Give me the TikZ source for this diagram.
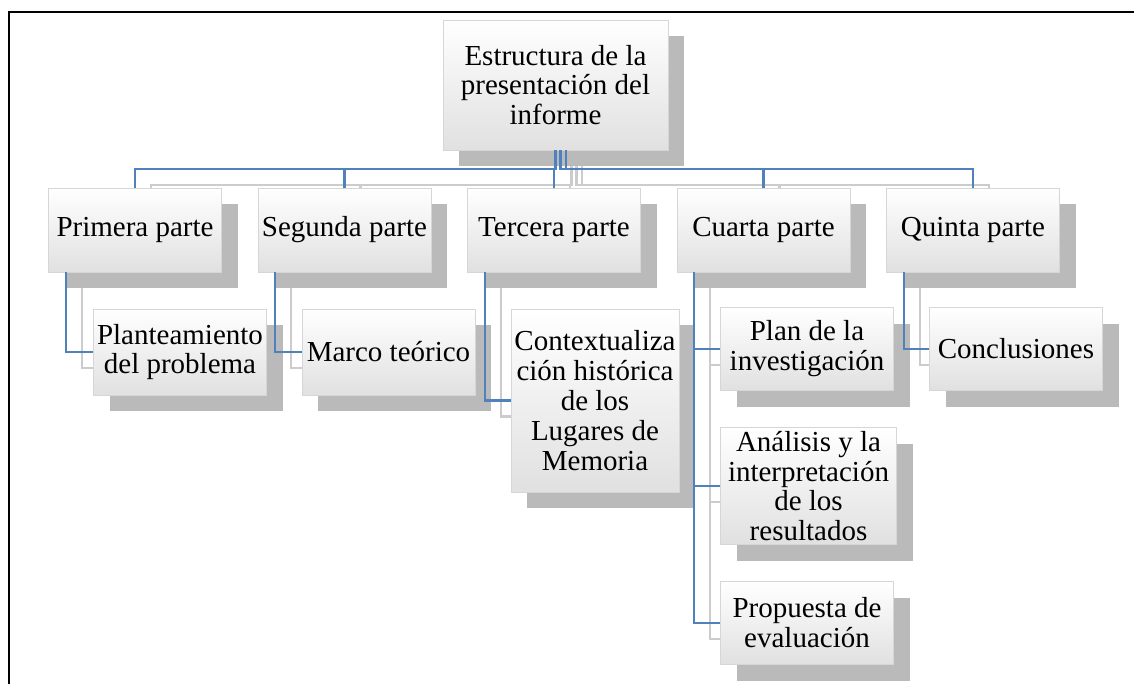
\documentclass[tikz,border=0pt]{standalone}
\usepackage{fontspec}
\setmainfont{Liberation Serif}
\usepackage{xcolor}
\usepackage{tikz}
\usetikzlibrary{positioning,shadows,backgrounds}

\definecolor{linkblue}{HTML}{4F81BD}

\begin{document}
\begin{tikzpicture}[
    node distance=4.19cm,
    box/.style={rectangle, draw=black!16, top color=white, bottom color=black!12, minimum width=3.46cm, minimum height=1.68cm, inner sep=1pt, align=center, font=\fontsize{16.5}{17}\selectfont, general shadow={fill=black!27, shadow xshift=0.32cm, shadow yshift=-0.32cm}},
    link/.style={draw=linkblue, line width=1.3pt},
    linkshade/.style={draw=black!20, line width=1.3pt}
]
    \useasboundingbox (0,0) rectangle (22.68,-13.68);
    \draw[line width=1.4pt] (0.18,-13.68) -- (0.18,-0.24) -- (22.68,-0.24);

    \node[box, minimum width=4.5cm, minimum height=2.6cm] (root) at (11.11,-1.7) {Estructura de la\\presentación del\\informe};
    \node[box] (first) at (2.7,-4.6) {Primera parte};
    \node[box, right of=first] (second) {Segunda parte};
    \node[box, right of=second] (third) {Tercera parte};
    \node[box, right of=third] (fourth) {Cuarta parte};
    \node[box, right of=fourth] (fifth) {Quinta parte};

    \node[box, below of=first, node distance=2.44cm, xshift=0.9cm, minimum height=1.72cm] (problem) {Planteamiento\\del problema};
    \node[box, below of=second, node distance=2.44cm, xshift=0.88cm, minimum height=1.72cm] (theory) {Marco teórico};
    \node[box, below of=third, node distance=3.41cm, xshift=0.82cm, minimum width=3.36cm, minimum height=3.66cm] (history) {Contextualiza\\ción histórica\\de los\\Lugares de\\Memoria};
    \node[box, below of=fourth, node distance=2.38cm, xshift=0.87cm, minimum height=1.66cm] (plan) {Plan de la\\investigación};
    \node[box, below of=fourth, node distance=5.12cm, xshift=0.9cm, minimum width=3.52cm, minimum height=2.34cm, inner ysep=0pt] (analysis) {Análisis y la\\interpretación\\de los\\resultados};
    \node[box, below of=fourth, node distance=7.86cm, xshift=0.87cm, minimum height=1.66cm] (proposal) {Propuesta de\\evaluación};
    \node[box, below of=fifth, node distance=2.38cm, xshift=0.86cm, minimum height=1.66cm] (closing) {Conclusiones};

    \draw[link] (root.south) -- ++(0,-0.38) -| (first.north);
    \draw[link] (root.south) -- ++(0,-0.38) -| (second.north);
    \draw[link] (root.south) -- ++(0,-0.38) -| (third.north);
    \draw[link] ([xshift=0.1cm]root.south) -- ++(0,-0.38) -| (fourth.north);
    \draw[link] ([xshift=0.21cm]root.south) -- ++(0,-0.38) -| (fifth.north);
    \draw[link] ([xshift=0.35cm]first.south west) |- (problem.west);
    \draw[link] ([xshift=0.35cm]second.south west) |- (theory.west);
    \draw[link] ([xshift=0.35cm]third.south west) |- (history.west);
    \draw[link] ([xshift=0.35cm]fourth.south west) |- (plan.west);
    \draw[link] ([xshift=0.35cm]fourth.south west) |- (analysis.west);
    \draw[link] ([xshift=0.35cm]fourth.south west) |- (proposal.west);
    \draw[link] ([xshift=0.35cm]fifth.south west) |- (closing.west);

    % shadows of the connectors
    \begin{scope}[on background layer]
    \begin{scope}[transform canvas={xshift=0.32cm, yshift=-0.32cm}]
        \draw[linkshade] (root.south) -- ++(0,-0.38) -| (first.north);
        \draw[linkshade] (root.south) -- ++(0,-0.38) -| (second.north);
        \draw[linkshade] (root.south) -- ++(0,-0.38) -| (third.north);
        \draw[linkshade] ([xshift=0.1cm]root.south) -- ++(0,-0.38) -| (fourth.north);
        \draw[linkshade] ([xshift=0.21cm]root.south) -- ++(0,-0.38) -| (fifth.north);
        \draw[linkshade] ([xshift=0.35cm]first.south west) |- (problem.west);
        \draw[linkshade] ([xshift=0.35cm]second.south west) |- (theory.west);
        \draw[linkshade] ([xshift=0.35cm]third.south west) |- (history.west);
        \draw[linkshade] ([xshift=0.35cm]fourth.south west) |- (plan.west);
        \draw[linkshade] ([xshift=0.35cm]fourth.south west) |- (analysis.west);
        \draw[linkshade] ([xshift=0.35cm]fourth.south west) |- (proposal.west);
        \draw[linkshade] ([xshift=0.35cm]fifth.south west) |- (closing.west);
    \end{scope}
    \end{scope}
\end{tikzpicture}
\end{document}
